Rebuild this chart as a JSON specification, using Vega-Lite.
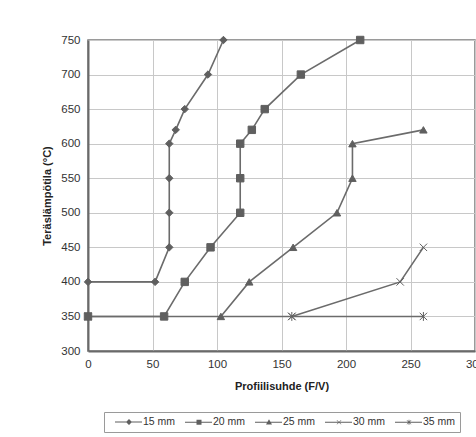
{
  "$schema": "https://vega.github.io/schema/vega-lite/v6.json",
  "width": 387,
  "height": 311,
  "autosize": {"type": "none"},
  "padding": {"left": 88, "top": 40, "right": 1, "bottom": 86},
  "config": {
    "view": {"stroke": "#7a7a7a", "strokeWidth": 1.5},
    "font": "Liberation Sans",
    "axis": {
      "labelFont": "Liberation Sans",
      "labelFontSize": 11.5,
      "labelColor": "#333333",
      "labelFlush": false,
      "labelOverlap": false,
      "titleFont": "Liberation Sans",
      "titleFontSize": 11,
      "titleFontWeight": "bold",
      "titleColor": "#222222",
      "gridColor": "#c8c8c8",
      "gridWidth": 1,
      "domainColor": "#6a6a6a",
      "domainWidth": 2,
      "ticks": false
    }
  },
  "datasets": {
    "rows": [
      {"series": "35 mm", "F": 0, "T": 350},
      {"series": "35 mm", "F": 158, "T": 350},
      {"series": "35 mm", "F": 260, "T": 350},
      {"series": "30 mm", "F": 158, "T": 350},
      {"series": "30 mm", "F": 242, "T": 400},
      {"series": "30 mm", "F": 260, "T": 450},
      {"series": "25 mm", "F": 103, "T": 350},
      {"series": "25 mm", "F": 125, "T": 400},
      {"series": "25 mm", "F": 159, "T": 450},
      {"series": "25 mm", "F": 193, "T": 500},
      {"series": "25 mm", "F": 205, "T": 550},
      {"series": "25 mm", "F": 205, "T": 600},
      {"series": "25 mm", "F": 260, "T": 620},
      {"series": "20 mm", "F": 0, "T": 350},
      {"series": "20 mm", "F": 59, "T": 350},
      {"series": "20 mm", "F": 75, "T": 400},
      {"series": "20 mm", "F": 95, "T": 450},
      {"series": "20 mm", "F": 118, "T": 500},
      {"series": "20 mm", "F": 118, "T": 550},
      {"series": "20 mm", "F": 118, "T": 600},
      {"series": "20 mm", "F": 127, "T": 620},
      {"series": "20 mm", "F": 137, "T": 650},
      {"series": "20 mm", "F": 165, "T": 700},
      {"series": "20 mm", "F": 211, "T": 750},
      {"series": "15 mm", "F": 0, "T": 400},
      {"series": "15 mm", "F": 52, "T": 400},
      {"series": "15 mm", "F": 63, "T": 450},
      {"series": "15 mm", "F": 63, "T": 500},
      {"series": "15 mm", "F": 63, "T": 550},
      {"series": "15 mm", "F": 63, "T": 600},
      {"series": "15 mm", "F": 68, "T": 620},
      {"series": "15 mm", "F": 75, "T": 650},
      {"series": "15 mm", "F": 93, "T": 700},
      {"series": "15 mm", "F": 105, "T": 750}
    ]
  },
  "data": {"name": "rows"},
  "encoding": {
    "x": {
      "field": "F", "type": "quantitative",
      "scale": {"domain": [0, 300], "nice": false},
      "axis": {"values": [0, 50, 100, 150, 200, 250, 300], "title": "Profiilisuhde (F/V)", "labelPadding": 7, "titlePadding": 11}
    },
    "y": {
      "field": "T", "type": "quantitative",
      "scale": {"domain": [300, 750], "nice": false, "zero": false},
      "axis": {"values": [300, 350, 400, 450, 500, 550, 600, 650, 700, 750], "title": "Teräslämpötila (°C)", "labelPadding": 8, "titlePadding": 8}
    }
  },
  "layer": [
    {
      "mark": {"type": "line", "color": "#6b6b6b", "strokeWidth": 1.6},
      "encoding": {"detail": {"field": "series"}, "order": {"value": null}}
    },
    {
      "mark": {"type": "point", "filled": true, "fill": "#5f5f5f", "stroke": "#5f5f5f", "strokeWidth": 1, "opacity": 1, "size": 55},
      "encoding": {
        "shape": {
          "field": "series", "type": "nominal",
          "scale": {
            "domain": ["15 mm", "20 mm", "25 mm", "30 mm", "35 mm"],
            "range": ["diamond", "square", "triangle-up", "M-1,-1L1,1M-1,1L1,-1", "M-1,-1L1,1M-1,1L1,-1M0,-1.2L0,1.2"]
          },
          "legend": null
        }
      }
    },
    {
      "transform": [{"filter": "datum.F < 0"}],
      "mark": {"type": "point", "filled": true, "fill": "#5f5f5f", "opacity": 1},
      "encoding": {
        "shape": {
          "field": "series", "type": "nominal",
          "scale": {
            "domain": ["15 mm", "20 mm", "25 mm", "30 mm", "35 mm"],
            "range": [
              "M0.2,-0.11L5.6,-0.11L5.6,0.11L0.2,0.11ZM3,-0.6L3.6,0L3,0.6L2.4,0Z",
              "M0.2,-0.11L5.6,-0.11L5.6,0.11L0.2,0.11ZM2.5,-0.5L3.5,-0.5L3.5,0.5L2.5,0.5Z",
              "M0.2,-0.11L5.6,-0.11L5.6,0.11L0.2,0.11ZM3,-0.6L3.6,0.45L2.4,0.45Z",
              "M0.2,-0.11L5.6,-0.11L5.6,0.11L0.2,0.11ZM2.5,-0.4L2.65,-0.4L3.5,0.4L3.35,0.4ZM3.35,-0.4L3.5,-0.4L2.65,0.4L2.5,0.4Z",
              "M0.2,-0.11L5.6,-0.11L5.6,0.11L0.2,0.11ZM2.5,-0.4L2.65,-0.4L3.5,0.4L3.35,0.4ZM3.35,-0.4L3.5,-0.4L2.65,0.4L2.5,0.4ZM2.92,-0.5L3.08,-0.5L3.08,0.5L2.92,0.5Z"
            ]
          },
          "legend": {
            "title": null,
            "orient": "none",
            "direction": "horizontal",
            "legendX": 16,
            "legendY": 372,
            "symbolSize": 100,
            "symbolFillColor": "#5f5f5f",
            "labelFont": "Liberation Sans",
            "labelFontSize": 10.5,
            "labelColor": "#333333",
            "labelOffset": 23,
            "columnPadding": 2,
            "strokeColor": "#9a9a9a",
            "fillColor": "white",
            "padding": 4
          }
        }
      }
    }
  ],
  "resolve": {"scale": {"shape": "independent"}}
}
